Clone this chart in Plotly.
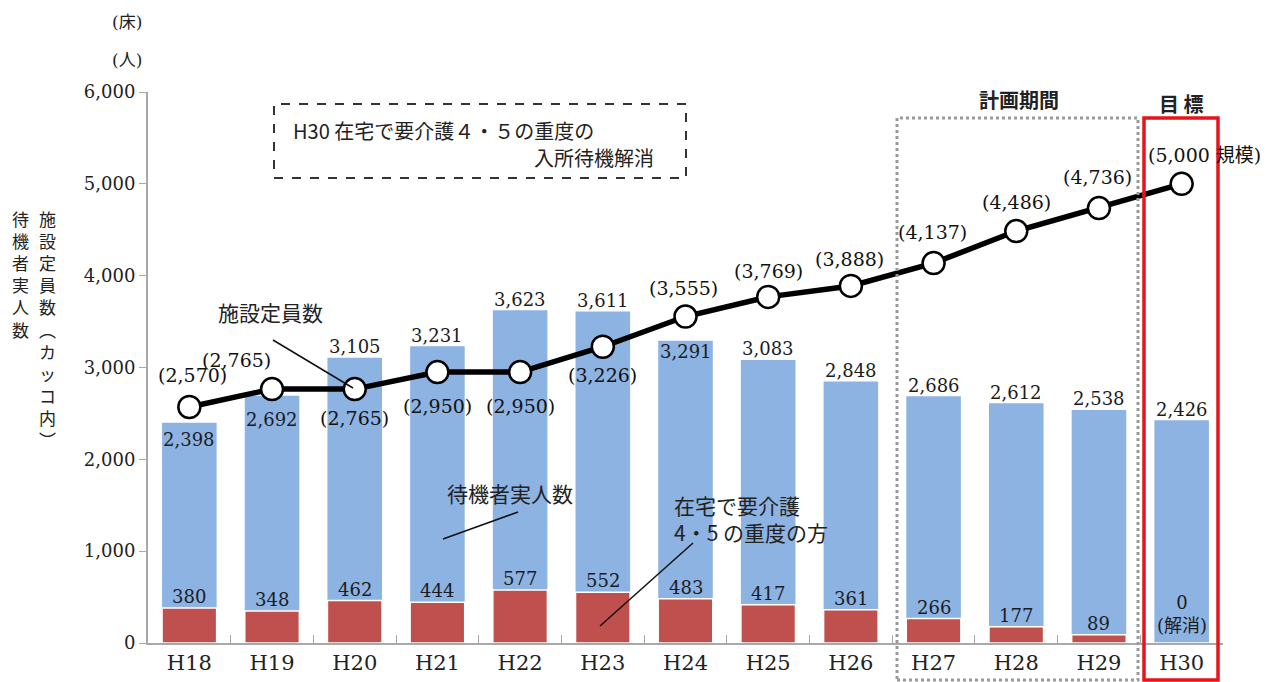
import plotly.graph_objects as go

# 年度
years = ["H18", "H19", "H20", "H21", "H22", "H23", "H24",
         "H25", "H26", "H27", "H28", "H29", "H30"]
# 待機者実人数
waiting_total = [2398, 2692, 3105, 3231, 3623, 3611, 3291,
                 3083, 2848, 2686, 2612, 2538, 2426]
# 在宅で要介護4・5の重度の方
waiting_severe = [380, 348, 462, 444, 577, 552, 483,
                  417, 361, 266, 177, 89, 0]
# 施設定員数（床）
capacity = [2570, 2765, 2765, 2950, 2950, 3226, 3555,
            3769, 3888, 4137, 4486, 4736, 5000]

BLUE = "#8db3e2"
RED = "#c0504d"
SERIF = "DejaVu Serif, Noto Sans CJK JP"
GOTHIC = "Noto Sans CJK JP"
TXT = "#1b1b22"

W, H = 1271, 682
M_L, M_R, M_T, M_B = 148, 48, 92, 39
PLOT_W = W - M_L - M_R
PLOT_H = H - M_T - M_B


def px_x(px):
    """page x pixel -> paper x"""
    return (px - M_L) / PLOT_W


def px_y(py):
    """page y pixel -> paper y"""
    return (H - M_B - py) / PLOT_H


def note(px, py, text, family=GOTHIC, size=21, xanchor="center",
         yanchor="middle", align="center", color="#222"):
    return dict(xref="paper", yref="paper", x=px_x(px), y=px_y(py),
                text=text, showarrow=False, xanchor=xanchor,
                yanchor=yanchor, align=align,
                font=dict(family=family, size=size, color=color))


fig = go.Figure()

fig.add_trace(go.Bar(
    x=years, y=waiting_total, name="待機者実人数",
    marker=dict(color=BLUE, line=dict(width=0)),
    width=0.66, hoverinfo="x+y",
))
fig.add_trace(go.Bar(
    x=years, y=waiting_severe, name="在宅で要介護4・5の重度の方",
    marker=dict(color=RED, line=dict(color="white", width=1.5)),
    width=0.66, hoverinfo="x+y",
))
fig.add_trace(go.Scatter(
    x=years, y=capacity, name="施設定員数", mode="lines+markers",
    line=dict(color="black", width=5.5),
    marker=dict(size=22, color="white", line=dict(color="black", width=2.5)),
    hoverinfo="x+y",
))

ann = []

# 待機者実人数のラベル（棒の上、または棒の上端の内側）
inside_total = {"H18": 17, "H19": 24, "H24": 11}
for yr, v in zip(years, waiting_total):
    ann.append(dict(
        x=yr, y=v, text=f"{v:,}", showarrow=False,
        xanchor="center", yanchor="middle",
        yshift=-inside_total[yr] if yr in inside_total else 11,
        font=dict(family=SERIF, size=18, color=TXT),
    ))

# 重度の方のラベル
for yr, v in zip(years, waiting_severe):
    label = f"{v:,}" if v else f"{v}<br>(解消)"
    ann.append(dict(
        x=yr, y=v, text=label, showarrow=False,
        xanchor="center", yanchor="bottom", yshift=-1 if v else 5,
        font=dict(family=SERIF, size=18, color=TXT),
    ))

# 施設定員数のラベル（カッコ書き）
cap_offsets = [(3, 32), (-36, 29), (0, -29), (0, -34), (0, -34), (0, -28),
               (-2, 29), (0, 26), (-1, 27), (-1, 31), (0, 29), (-1, 31), (23, 29)]
for i, (yr, v) in enumerate(zip(years, capacity)):
    dx, dy = cap_offsets[i]
    label = f"({v:,})" if i < len(years) - 1 else f"({v:,} 規模)"
    ann.append(dict(
        x=yr, y=v, text=label, showarrow=False,
        xanchor="center", yanchor="middle", xshift=dx, yshift=dy,
        font=dict(family=SERIF, size=19, color="#111"),
    ))

# 系列名の引き出しラベル
ann += [
    note(270, 312, "施設定員数"),
    note(510, 493, "待機者実人数"),
    note(672, 518, "在宅で要介護<br>4・5 の重度の方", xanchor="left", align="left"),
]

# 目標の枠内テキストと見出し
ann += [
    note(291, 130, "H30 在宅で要介護４・５の重度の", size=20, xanchor="left"),
    note(656, 158, "入所待機解消", size=20, xanchor="right"),
    note(1019, 100, "<b>計画期間</b>", size=20),
    note(1181, 103, "<b>目 標</b>", size=20),
]

# 単位と縦書きの軸タイトル
ann += [
    note(127, 22, "(床)", family=SERIF, size=17),
    note(127, 60, "(人)", family=SERIF, size=17),
    note(47, 204, "<br>".join("施設定員数︵カッコ内︶"), size=17, yanchor="top"),
    note(20, 204, "<br>".join("待機者実人数"), size=17, yanchor="top"),
]

shapes = [
    # 目標の破線枠
    dict(type="rect", xref="paper", yref="paper",
         x0=px_x(274), x1=px_x(686), y0=px_y(178), y1=px_y(104),
         line=dict(color="#333", width=2, dash="dash")),
    # 計画期間の点線枠
    dict(type="rect", xref="paper", yref="paper",
         x0=px_x(897), x1=px_x(1138), y0=px_y(680), y1=px_y(118),
         line=dict(color="#999", width=3, dash="dot"), layer="above"),
    # 目標年度の赤枠
    dict(type="rect", xref="paper", yref="paper",
         x0=px_x(1144), x1=px_x(1218), y0=px_y(680), y1=px_y(118),
         line=dict(color="#e8141b", width=3.5), layer="above"),
    # 引き出し線
    dict(type="line", xref="paper", yref="paper",
         x0=px_x(273), y0=px_y(340), x1=px_x(353), y1=px_y(388),
         line=dict(color="#111", width=1.5), layer="above"),
    dict(type="line", xref="paper", yref="paper",
         x0=px_x(443), y0=px_y(539), x1=px_x(518), y1=px_y(512),
         line=dict(color="#111", width=1.5), layer="above"),
    dict(type="line", xref="paper", yref="paper",
         x0=px_x(600), y0=px_y(626), x1=px_x(693), y1=px_y(543),
         line=dict(color="#111", width=1.5), layer="above"),
]

fig.update_layout(
    width=W, height=H,
    margin=dict(l=M_L, r=M_R, t=M_T, b=M_B, autoexpand=False),
    paper_bgcolor="white", plot_bgcolor="white",
    barmode="overlay", showlegend=False,
    annotations=ann, shapes=shapes,
    xaxis=dict(
        type="category", range=[-0.5, 12.5], automargin=False,
        showline=True, linecolor="#a8a8a8", linewidth=2,
        ticks="inside", tickson="boundaries", ticklen=8, tickcolor="#a8a8a8",
        tickfont=dict(family=SERIF, size=21, color="#222"),
        showgrid=False, zeroline=False,
    ),
    yaxis=dict(
        range=[0, 6000], dtick=1000, tickformat=",", automargin=False,
        showline=True, linecolor="#a8a8a8", linewidth=2,
        ticks="outside", ticklen=7, tickcolor="#a8a8a8",
        tickfont=dict(family=SERIF, size=18, color="#222"),
        showgrid=False, zeroline=False,
    ),
)

fig.write_html("out.html")
